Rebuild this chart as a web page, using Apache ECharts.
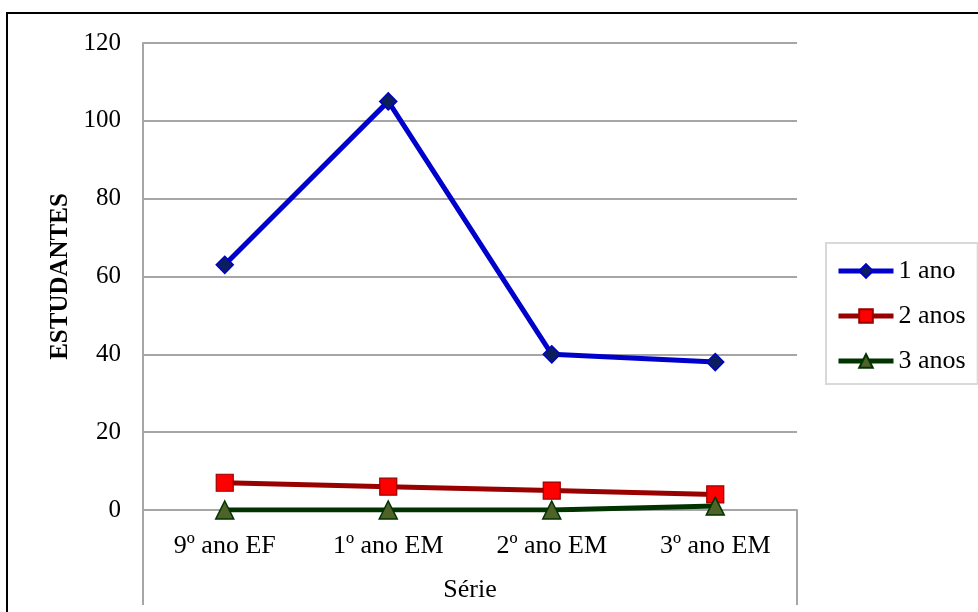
<!DOCTYPE html>
<html><head><meta charset="utf-8">
<script src="https://cdn.jsdelivr.net/npm/echarts@6/dist/echarts.min.js"></script>
<style>html,body{margin:0;padding:0;background:#fff}#c{width:978px;height:612px}</style>
</head><body><div id="c"></div>
<script>
const categories = ['9º ano EF', '1º ano EM', '2º ano EM', '3º ano EM'];
const seriesNames = ['1 ano', '2 anos', '3 anos'];
const ano1 = [63, 105, 40, 38];
const anos2 = [7, 6, 5, 4];
const anos3 = [0, 0, 0, 1];
const yMin = 0, yMax = 120, yInterval = 20;

const FONT = '"Liberation Serif", "Times New Roman", serif';
const G = {left: 143, right: 181, top: 43, bottom: 102};
const W = 978, H = 612;
const gridGrey = '#a6a6a6';

const chart = echarts.init(document.getElementById('c'), null, {renderer: 'canvas'});
const x0 = G.left, x1 = W - G.right, yb = H - G.bottom;

chart.setOption({
  animation: false,
  backgroundColor: '#fff',
  textStyle: {fontFamily: FONT, color: '#000'},
  grid: {left: G.left, right: G.right, top: G.top, bottom: G.bottom, containLabel: false},
  xAxis: {
    type: 'category', data: categories, boundaryGap: true,
    name: 'Série', nameLocation: 'middle', nameGap: 67,
    nameTextStyle: {fontFamily: FONT, fontSize: 26, color: '#000'},
    axisLine: {show: true, lineStyle: {color: gridGrey, width: 2}},
    axisTick: {show: false},
    axisLabel: {fontFamily: FONT, fontSize: 26, color: '#000', margin: 23},
    splitLine: {show: false}
  },
  yAxis: {
    type: 'value', min: yMin, max: yMax, interval: yInterval,
    name: 'ESTUDANTES', nameLocation: 'middle', nameGap: 68, nameRotate: 90,
    nameTextStyle: {fontFamily: FONT, fontSize: 25, fontWeight: 'bold', color: '#000'},
    axisLine: {show: true, lineStyle: {color: gridGrey, width: 2}},
    axisTick: {show: false},
    axisLabel: {fontFamily: FONT, fontSize: 25, color: '#000', margin: 22},
    splitLine: {show: true, lineStyle: {color: gridGrey, width: 2}}
  },
  legend: {
    data: seriesNames,
    orient: 'vertical', left: 826, top: 243,
    itemWidth: 55, itemHeight: 17, itemGap: 19,
    padding: [15, 12, 10, 10],
    borderColor: '#d9d9d9', borderWidth: 2,
    lineStyle: {width: 5},
    textStyle: {fontFamily: FONT, fontSize: 26, color: '#000'}
  },
  series: [
    {name: seriesNames[0], type: 'line', data: ano1, symbol: 'diamond', symbolSize: 17,
     lineStyle: {color: '#0000CC', width: 5},
     itemStyle: {color: '#0a1f5c', borderColor: '#0000CC', borderWidth: 1.5}},
    {name: seriesNames[1], type: 'line', data: anos2, symbol: 'rect', symbolSize: 17,
     lineStyle: {color: '#990000', width: 5},
     itemStyle: {color: '#FF0000', borderColor: '#990000', borderWidth: 1.2}},
    {name: seriesNames[2], type: 'line', data: anos3, symbol: 'triangle', symbolSize: 18,
     lineStyle: {color: '#003300', width: 5},
     itemStyle: {color: '#4F6228', borderColor: '#003300', borderWidth: 1.5}}
  ],
  graphic: [
    {type: 'rect', shape: {x: 7, y: 13, width: 1100, height: 800}, style: {fill: 'none', stroke: '#000', lineWidth: 2}, silent: true},
    {type: 'line', shape: {x1: x0, y1: yb, x2: x0, y2: 605}, style: {stroke: gridGrey, lineWidth: 2}, silent: true},
    {type: 'line', shape: {x1: x1, y1: yb, x2: x1, y2: 605}, style: {stroke: gridGrey, lineWidth: 2}, silent: true}
  ]
});
</script></body></html>
